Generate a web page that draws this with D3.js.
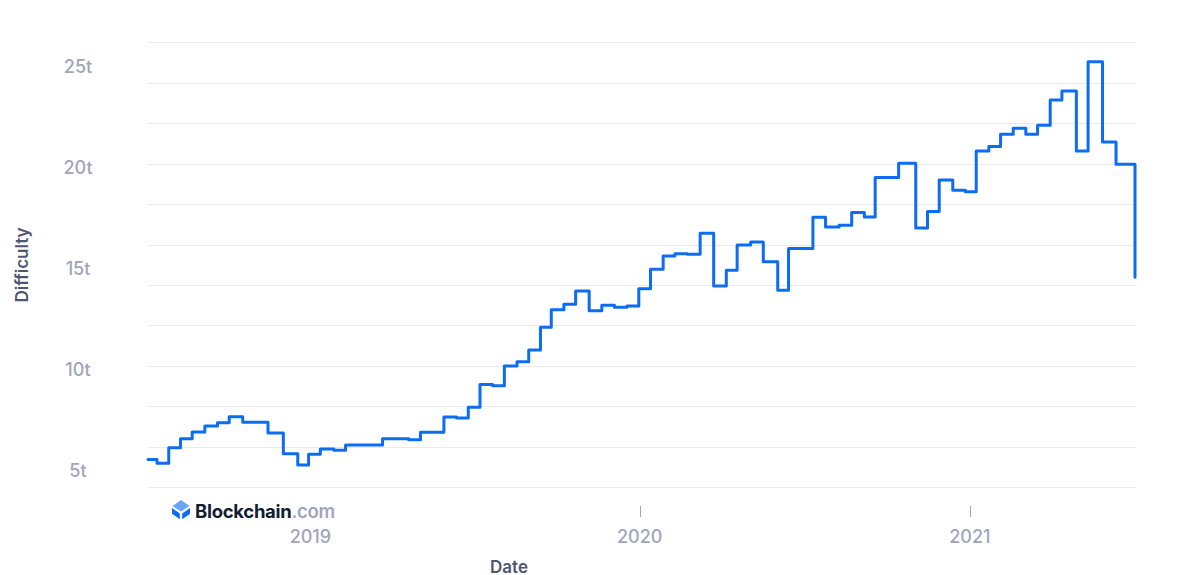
<!DOCTYPE html>
<html>
<head>
<meta charset="utf-8">
<script src="https://cdn.jsdelivr.net/npm/d3@7"></script>
<style>
  html, body { margin: 0; padding: 0; background: #ffffff; }
  svg { display: block; font-family: Inter, "Noto Sans", sans-serif; }
</style>
</head>
<body>
<svg id="chart" width="1181" height="575"></svg>
<script>
// ---- data ----
const dates = [
  "2018-07-05","2018-07-15","2018-07-28","2018-08-10","2018-08-23","2018-09-06","2018-09-20","2018-10-03",
  "2018-10-18","2018-11-15","2018-12-02","2018-12-18","2018-12-30","2019-01-12","2019-01-27","2019-02-09",
  "2019-03-22","2019-04-20","2019-05-03","2019-05-29","2019-06-12","2019-06-25","2019-07-08","2019-07-22",
  "2019-08-04","2019-08-18","2019-08-31","2019-09-13","2019-09-25","2019-10-09","2019-10-22","2019-11-06",
  "2019-11-20","2019-12-04","2019-12-18","2019-12-31","2020-01-13","2020-01-27","2020-02-09","2020-02-23",
  "2020-03-08","2020-03-23","2020-04-06","2020-04-18","2020-05-03","2020-05-17","2020-06-02","2020-06-14",
  "2020-07-11","2020-07-25","2020-08-09","2020-08-23","2020-09-06","2020-09-18","2020-10-14","2020-11-02",
  "2020-11-15","2020-11-28","2020-12-13","2020-12-27","2021-01-08","2021-01-22","2021-02-04","2021-02-18",
  "2021-03-04","2021-03-17","2021-03-31","2021-04-13","2021-04-29","2021-05-12","2021-05-28","2021-06-12",
  "2021-07-02","2021-07-03"
];
const difficulty = [ // in trillions
  5.38, 5.19, 5.96, 6.40, 6.73, 7.03, 7.19, 7.49,
  7.21, 6.68, 5.66, 5.10, 5.63, 5.89, 5.83, 6.09,
  6.40, 6.35, 6.72, 7.48, 7.43, 7.96, 9.08, 9.02,
  10.00, 10.21, 10.79, 11.91, 12.78, 13.05, 13.70, 12.73,
  13.00, 12.90, 12.96, 13.81, 14.78, 15.43, 15.55, 15.52,
  16.56, 13.95, 14.73, 15.98, 16.13, 15.15, 13.74, 15.81,
  17.35, 16.87, 16.95, 17.58, 17.36, 19.32, 20.02, 16.82,
  17.63, 19.19, 18.68, 18.61, 20.63, 20.85, 21.45, 21.75,
  21.45, 21.90, 23.15, 23.59, 20.63, 25.04, 21.07, 19.97,
  19.97, 14.38
];
const gridValues = [4, 6, 8, 10, 12, 14, 16, 18, 20, 22, 24, 26];
const yTickValues = [5, 10, 15, 20, 25];
const yTickLabels = ["5t", "10t", "15t", "20t", "25t"];
const xTickDates = ["2019-01-01", "2020-01-01", "2021-01-01"];
const xTickLabels = ["2019", "2020", "2021"];
const xDomain = ["2018-07-05", "2021-07-03"];
const yDomain = [4, 26];

// ---- drawing ----
const parse = d3.utcParse("%Y-%m-%d");
const data = dates.map((d, i) => ({ date: parse(d), value: difficulty[i] }));

const svg = d3.select("#chart");
const x = d3.scaleUtc().domain(xDomain.map(parse)).range([148, 1135]);
const y = d3.scaleLinear().domain(yDomain).range([487.3, 42.3]);

const labelColor = "#a0a5ba";
const titleColor = "#4f5672";

// gridlines
svg.append("g").selectAll("line").data(gridValues).join("line")
  .attr("x1", 148).attr("x2", 1135)
  .attr("y1", d => Math.round(y(d)) + 0.5).attr("y2", d => Math.round(y(d)) + 0.5)
  .attr("stroke", "#e9e9ef").attr("stroke-width", 1);

// y labels
svg.append("g").selectAll("text").data(yTickValues).join("text")
  .attr("x", 78).attr("y", d => y(d) + 10.3)
  .attr("text-anchor", "middle")
  .attr("font-size", 18).attr("font-weight", 500)
  .attr("fill", labelColor)
  .text((d, i) => yTickLabels[i]);

// x ticks & labels
const xt = svg.append("g");
xt.selectAll("line").data(xTickDates).join("line")
  .attr("x1", d => Math.round(x(parse(d))) + 0.5).attr("x2", d => Math.round(x(parse(d))) + 0.5)
  .attr("y1", 506).attr("y2", 517)
  .attr("stroke", labelColor).attr("stroke-width", 1);
xt.selectAll("text").data(xTickDates).join("text")
  .attr("x", d => x(parse(d))).attr("y", 543.3)
  .attr("text-anchor", "middle")
  .attr("font-size", 18).attr("font-weight", 500)
  .attr("fill", labelColor)
  .text((d, i) => xTickLabels[i]);

// axis titles
svg.append("text")
  .attr("transform", "translate(28,265) rotate(-90)")
  .attr("text-anchor", "middle")
  .attr("font-size", 17).attr("font-weight", 600)
  .attr("fill", titleColor)
  .text("Difficulty");
svg.append("text")
  .attr("x", 509).attr("y", 572.5)
  .attr("text-anchor", "middle")
  .attr("font-size", 17).attr("font-weight", 600)
  .attr("fill", titleColor)
  .text("Date");

// line
const line = d3.line()
  .x(d => x(d.date))
  .y(d => y(d.value))
  .curve(d3.curveStepAfter);
svg.append("path")
  .datum(data)
  .attr("d", line)
  .attr("fill", "none")
  .attr("stroke", "#0c6cf2")
  .attr("stroke-width", 3)
  .attr("stroke-linejoin", "round")
  .attr("stroke-linecap", "round");

// watermark logo
const logo = svg.append("g");
logo.append("rect").attr("x", 170).attr("y", 498).attr("width", 166).attr("height", 24).attr("fill", "#ffffff").attr("opacity", 0.9);
logo.append("path").attr("d", "M181,500 L189.5,506 L181,511.5 L172.5,506 Z").attr("fill", "#6aa6f8");
logo.append("path").attr("d", "M172,508 L179.8,513.4 L179.8,519.2 L172,513.8 Z").attr("fill", "#0c6cf2");
logo.append("path").attr("d", "M190,508 L182.2,513.4 L182.2,519.2 L190,513.8 Z").attr("fill", "#0c6cf2");
const lt = logo.append("text").attr("x", 195).attr("y", 517.5)
  .attr("font-size", 18.5).attr("font-weight", 700).attr("letter-spacing", -0.3);
lt.append("tspan").attr("fill", "#121d33").text("Blockchain");
lt.append("tspan").attr("fill", "#a0a5ba").attr("font-weight", 600).text(".com");
</script>
</body>
</html>
